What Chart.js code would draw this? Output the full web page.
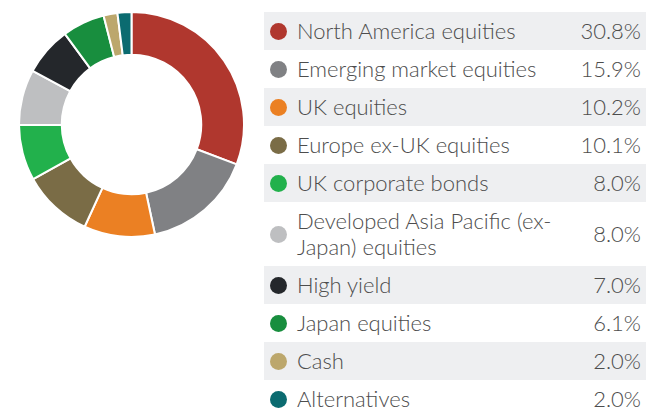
<!DOCTYPE html>
<html>
<head>
<meta charset="utf-8">
<script src="https://cdn.jsdelivr.net/npm/chart.js@4"></script>
<style>
  html, body { margin: 0; padding: 0; background: #fff; }
  body { width: 646px; height: 415px; position: relative; overflow: hidden; font-family: Lato, "Open Sans", sans-serif; }
  #pie { position: absolute; left: 18px; top: 11px; width: 227px; height: 227px; }
  #legend { position: absolute; left: 264px; top: 12px; width: 382px; }
  .row { display: flex; align-items: center; padding: 6px 0; line-height: 26px; color: #4d4d4d; font-size: 22px; font-weight: 300; }
  .row:nth-child(odd) { background: #eeeff1; }
  .dot { width: 17px; height: 17px; border-radius: 50%; margin-left: 6px; margin-right: 10px; flex: none; }
  .lbl { width: 272px; }
  .pct { flex: 1; text-align: right; padding-right: 5px; }
</style>
</head>
<body>
<div id="pie"><canvas id="myChart-Allocation"></canvas></div>
<div id="legend"></div>
<script>
const labels = ['North America equities', 'Emerging market equities', 'UK equities', 'Europe ex-UK equities',
    'UK corporate bonds', 'Developed Asia Pacific (ex-Japan) equities', 'High yield', 'Japan equities', 'Cash', 'Alternatives'];
const weights = [30.8, 15.9, 10.2, 10.1, 8.0, 8.0, 7.0, 6.1, 2.0, 2.0];
const colours = ['#b0372e', '#808184', '#eb8023', '#7a6c46', '#22b14c', '#bebfc1', '#24272b', '#188e3e', '#bca76c', '#0b6b70'];

// legend rows
const legend = document.getElementById('legend');
labels.forEach((name, i) => {
    const row = document.createElement('div');
    row.className = 'row';
    row.innerHTML = '<span class="dot" style="background:' + colours[i] + '"></span>' +
        '<span class="lbl">' + name + '</span>' +
        '<span class="pct">' + weights[i].toFixed(1) + '%</span>';
    legend.appendChild(row);
});

new Chart(document.getElementById('myChart-Allocation'), {
    type: 'doughnut',
    data: {
        labels: labels,
        datasets: [{
            data: weights,
            backgroundColor: colours,
            borderColor: '#ffffff',
            borderWidth: 2
        }]
    },
    options: {
        responsive: true,
        maintainAspectRatio: false,
        animation: false,
        cutout: '62%',
        plugins: {
            legend: { display: false },
            tooltip: { enabled: false }
        }
    }
});
</script>
</body>
</html>
